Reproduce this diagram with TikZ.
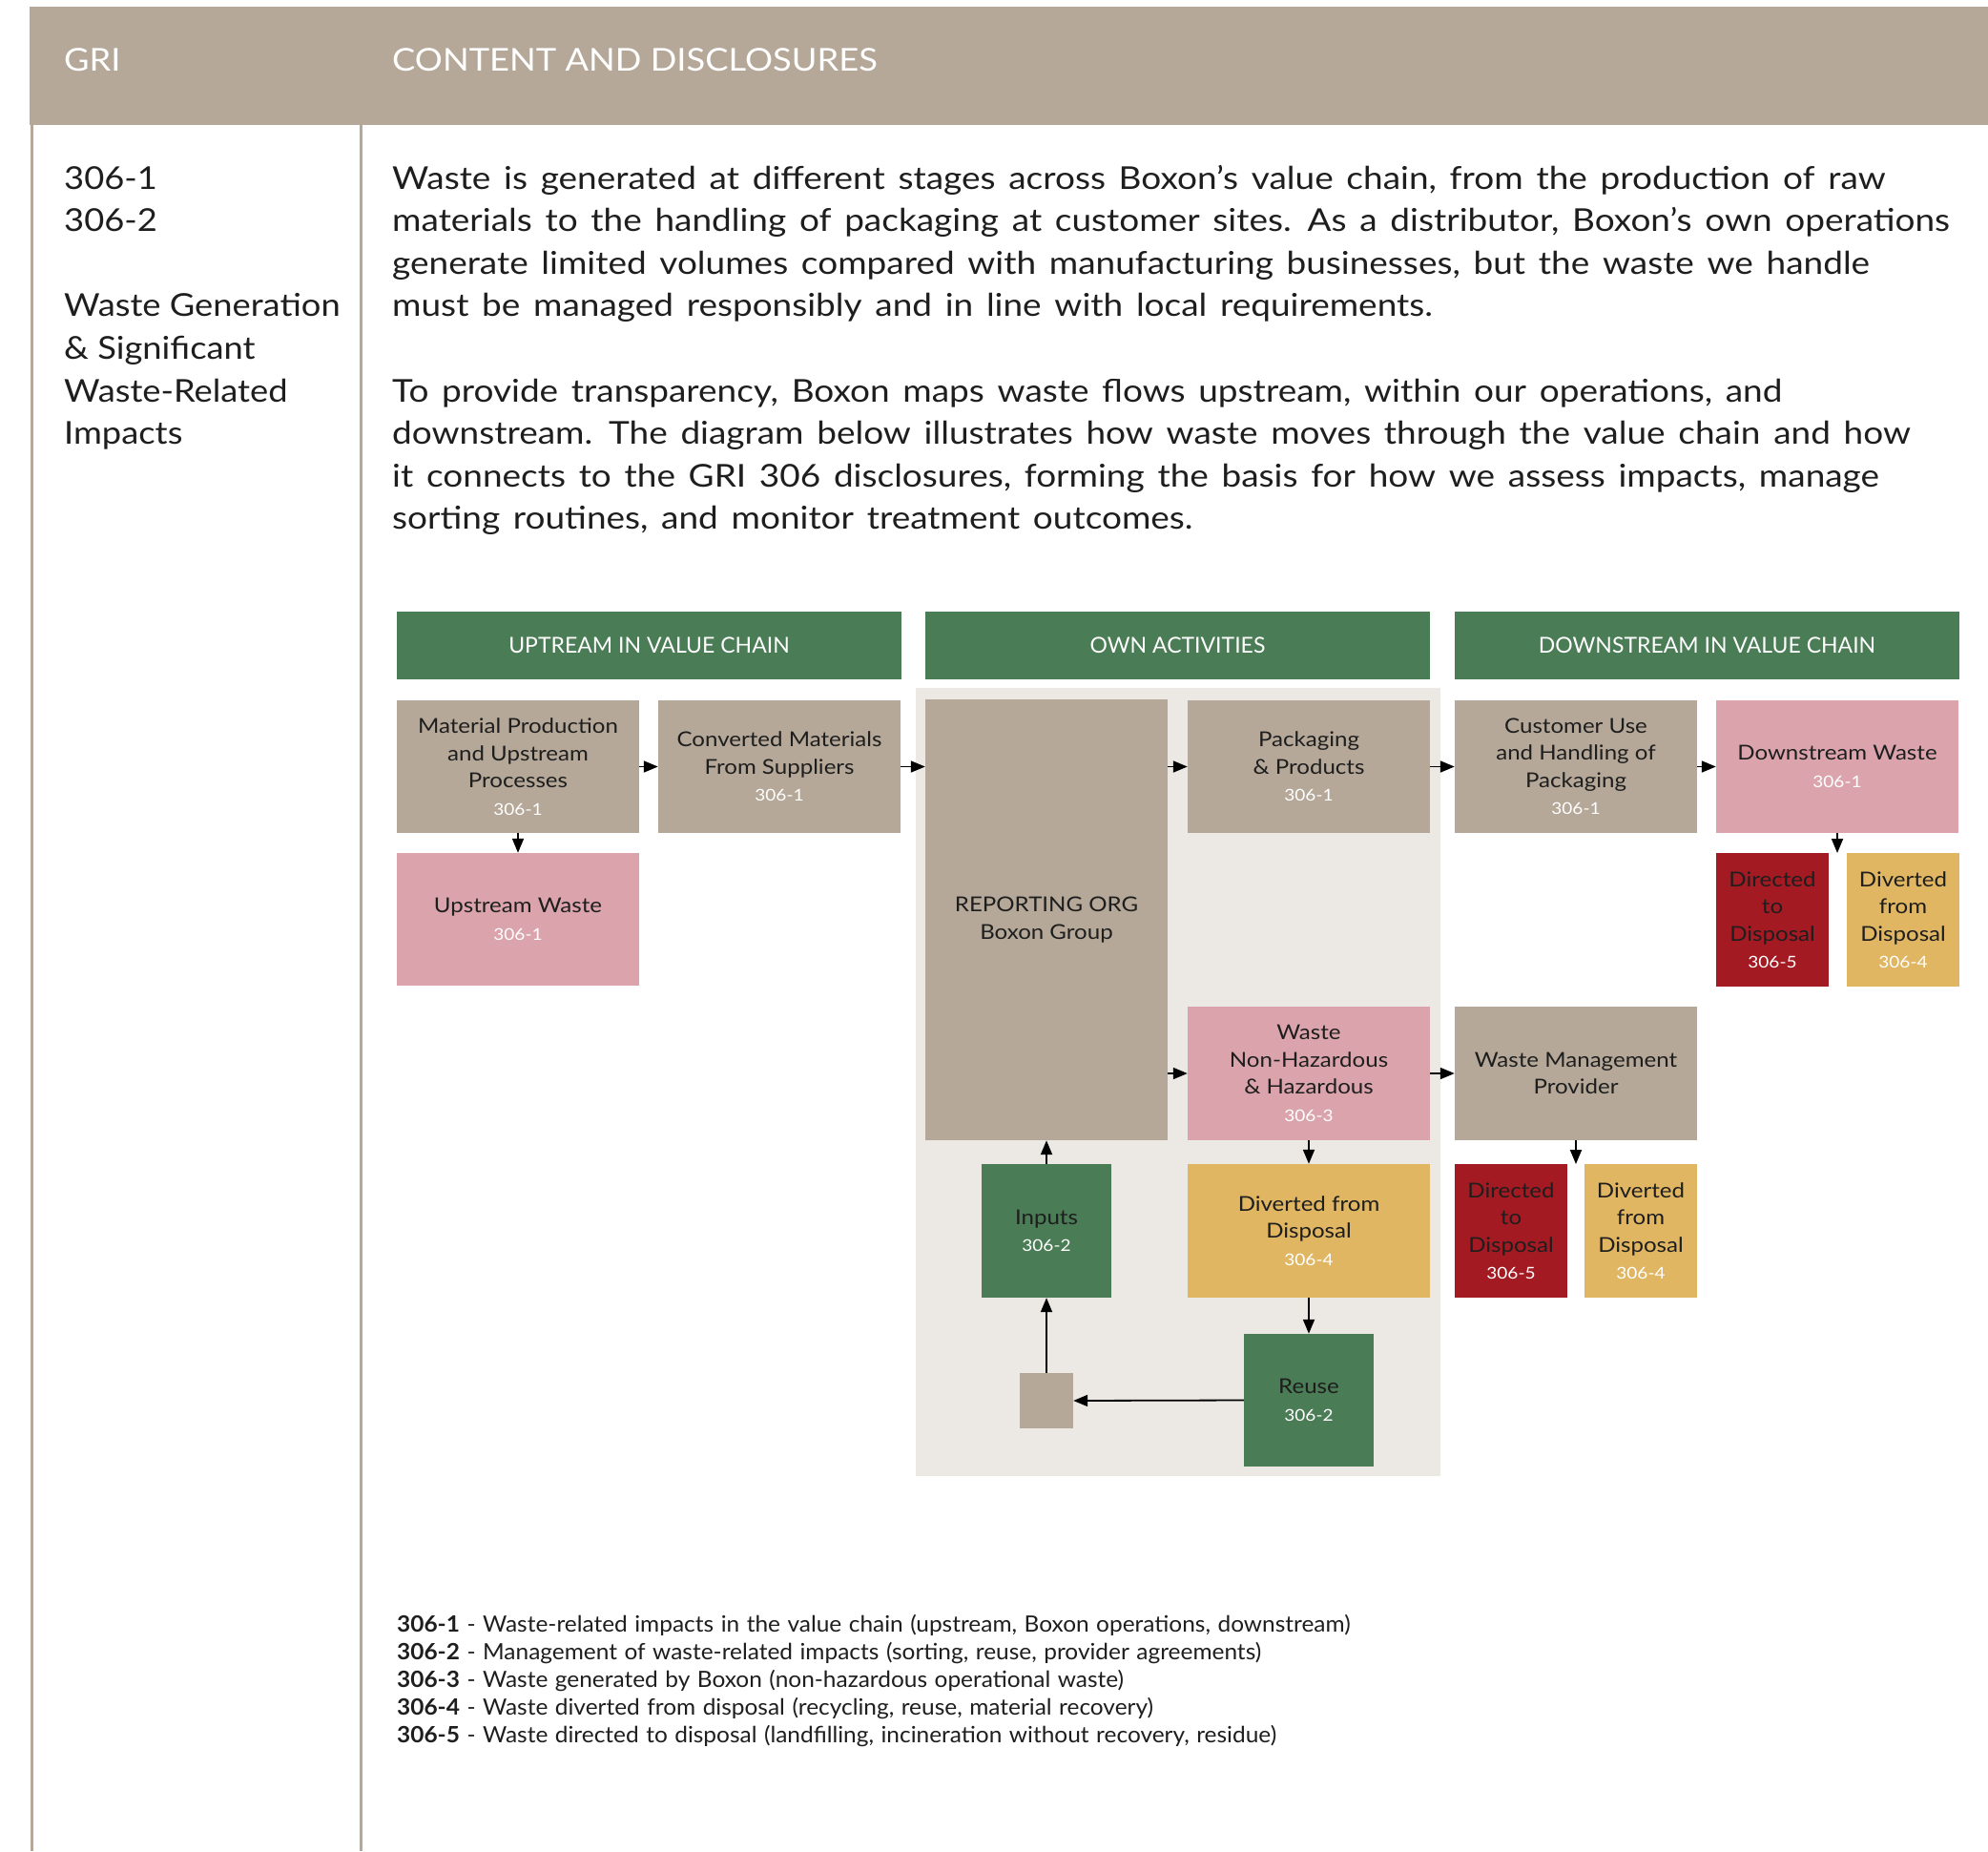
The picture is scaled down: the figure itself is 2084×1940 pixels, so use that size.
\documentclass[tikz,border=0pt]{standalone}
\usepackage{fontspec}
\setmainfont{Lato}[FakeStretch=1.12, WordSpace=1.45]
\newfontfamily\bxf{Lato}[FakeStretch=1.12]
\newfontfamily\lgf{Lato}[FakeStretch=1.04, WordSpace=1.2]
\newfontfamily\hdf{Lato}
\newfontfamily\tpf{Lato}[FakeStretch=1.1]
\usetikzlibrary{arrows.meta}
\definecolor{taupe}{HTML}{B5A898}
\definecolor{vgreen}{HTML}{4A7C55}
\definecolor{vpink}{HTML}{DBA4AC}
\definecolor{vred}{HTML}{A31A22}
\definecolor{vyellow}{HTML}{E0B662}
\definecolor{panel}{HTML}{ECE8E3}
\definecolor{ink}{HTML}{1E1E1E}
\newcommand{\nm}[1]{{\fontsize{17}{28.5}\selectfont\color{white}#1}}
\begin{document}
\begin{tikzpicture}[x=1pt,y=-1pt,
  box/.style={rectangle, inner sep=0pt, align=center, text=ink, font=\bxf\fontsize{21.5}{28.5}\selectfont},
  hdr/.style={rectangle, inner sep=0pt, fill=vgreen, text=white, minimum width=529pt, minimum height=71pt, font=\hdf\fontsize{23}{29}\selectfont},
  txt/.style={anchor=base west, inner sep=0pt, text=ink, font=\fontsize{33}{44}\selectfont},
  side/.style={anchor=base west, inner sep=0pt, text=ink, font=\tpf\fontsize{33}{44}\selectfont},
  leg/.style={anchor=base west, inner sep=0pt, text=ink, font=\lgf\fontsize{23.5}{29}\selectfont},
  head/.style={anchor=base west, inner sep=0pt, text=white, font=\tpf\fontsize{33}{44}\selectfont},
  arr/.style={draw=black, line width=1.8pt, -{Triangle[length=15pt,width=12pt]}},
  wide/.style={minimum width=254pt},
  narrow/.style={minimum width=136pt},
  slim/.style={minimum width=118pt}
]
\useasboundingbox (0,0) rectangle (2084,1940);
\fill[white] (0,0) rectangle (2084,1940);
% table frame
\fill[taupe] (31,7) rectangle (2084,131);
\fill[taupe] (31.5,131) rectangle (34.5,1940);
\fill[taupe] (376.5,131) rectangle (379.5,1940);
\node[head] (hgri) at (67,75) {GRI};
\node[head] (hcont) at (411,75) {CONTENT AND DISCLOSURES};
% left column
\node[side] (l1) at (67,198) {306-1};
\node[side] (l2) at (67,242.5) {306-2};
\node[side] (l3) at (67,331.5) {Waste Generation};
\node[side] (l4) at (67,376) {\& Significant};
\node[side] (l5) at (67,421) {Waste-Related};
\node[side] (l6) at (67,465.5) {Impacts};
% paragraphs
\node[txt] (p1) at (411,198) {Waste is generated at different stages across Boxon’s value chain, from the production of raw};
\node[txt] (p2) at (411,242.5) {materials to the handling of packaging at customer sites. As a distributor, Boxon’s own operations};
\node[txt] (p3) at (411,287) {generate limited volumes compared with manufacturing businesses, but the waste we handle};
\node[txt] (p4) at (411,331.5) {must be managed responsibly and in line with local requirements.};
\node[txt] (p5) at (411,421) {To provide transparency, Boxon maps waste flows upstream, within our operations, and};
\node[txt] (p6) at (411,465.5) {downstream. The diagram below illustrates how waste moves through the value chain and how};
\node[txt] (p7) at (411,510) {it connects to the GRI 306 disclosures, forming the basis for how we assess impacts, manage};
\node[txt] (p8) at (411,554.5) {sorting routines, and monitor treatment outcomes.};
% column headers
\node[hdr] (hu) at (680.5,676.5) {UPTREAM IN VALUE CHAIN};
\node[hdr] (ho) at (1234.5,676.5) {OWN ACTIVITIES};
\node[hdr] (hd) at (1789.5,676.5) {DOWNSTREAM IN VALUE CHAIN};
% own activities panel
\fill[panel] (960,721) rectangle (1510,1547);
% boxes
\node[box, wide, minimum height=139pt, fill=taupe] (mat) at (543,803.5) {Material Production\\and Upstream\\Processes\\\nm{306-1}};
\node[box, wide, minimum height=139pt, fill=taupe] (conv) at (817,803.5) {Converted Materials\\From Suppliers\\\nm{306-1}};
\node[box, wide, minimum height=462pt, fill=taupe] (rep) at (1097,964) {REPORTING ORG\\Boxon Group};
\node[box, wide, minimum height=139pt, fill=taupe] (pack) at (1372,803.5) {Packaging\\\& Products\\\nm{306-1}};
\node[box, wide, minimum height=139pt, fill=taupe] (cust) at (1652,803.5) {Customer Use\\and Handling of\\Packaging\\\nm{306-1}};
\node[box, wide, minimum height=139pt, fill=vpink] (dw) at (1926,803.5) {Downstream Waste\\\nm{306-1}};
\node[box, wide, minimum height=139pt, fill=vpink] (upw) at (543,963.5) {Upstream Waste\\\nm{306-1}};
\node[box, slim, minimum height=140pt, fill=vred] (dd1) at (1858,964) {Directed\\to\\Disposal\\\nm{306-5}};
\node[box, slim, minimum height=140pt, fill=vyellow] (dv1) at (1995,964) {Diverted\\from\\Disposal\\\nm{306-4}};
\node[box, wide, minimum height=140pt, fill=vpink] (wnh) at (1372,1125) {Waste\\Non-Hazardous\\\& Hazardous\\\nm{306-3}};
\node[box, wide, minimum height=140pt, fill=taupe] (wmp) at (1652,1125) {Waste Management\\Provider};
\node[box, narrow, minimum height=140pt, fill=vgreen] (inp) at (1097,1290) {Inputs\\\nm{306-2}};
\node[box, wide, minimum height=140pt, fill=vyellow] (dvo) at (1372,1290) {Diverted from\\Disposal\\\nm{306-4}};
\node[box, slim, minimum height=140pt, fill=vred] (dd2) at (1584,1290) {Directed\\to\\Disposal\\\nm{306-5}};
\node[box, slim, minimum height=140pt, fill=vyellow] (dv2) at (1720,1290) {Diverted\\from\\Disposal\\\nm{306-4}};
\node[box, minimum width=56pt, minimum height=58pt, fill=taupe] (sm) at (1097,1468) {};
\node[box, narrow, minimum height=139pt, fill=vgreen] (reu) at (1372,1467.5) {Reuse\\\nm{306-2}};
% free ends
\coordinate (dwend) at (1926,894);
\coordinate (wmend) at (1652,1220);
% connectors
\draw[arr] (mat.east) -- (conv.west);
\draw[arr] (conv.east) -- (rep.west |- conv.east);
\draw[arr] (rep.east |- pack.west) -- (pack.west);
\draw[arr] (pack.east) -- (cust.west);
\draw[arr] (cust.east) -- (dw.west);
\draw[arr] (mat.south) -- (upw.north);
\draw[arr] (dw.south) -- (dwend);
\draw[arr] (rep.east |- wnh.west) -- (wnh.west);
\draw[arr] (wnh.east) -- (wmp.west);
\draw[arr] (wnh.south) -- (dvo.north);
\draw[arr] (wmp.south) -- (wmend);
\draw[arr] (inp.north) -- (inp.north |- rep.south);
\draw[arr] (dvo.south) -- (reu.north);
\draw[arr] (sm.north) -- (inp.south);
\draw[arr] (reu.west) -- (sm.east);
% legend
\node[leg] (g1) at (416,1710) {\textbf{306-1} - Waste-related impacts in the value chain (upstream, Boxon operations, downstream)};
\node[leg] (g2) at (416,1739) {\textbf{306-2} - Management of waste-related impacts (sorting, reuse, provider agreements)};
\node[leg] (g3) at (416,1768) {\textbf{306-3} - Waste generated by Boxon (non-hazardous operational waste)};
\node[leg] (g4) at (416,1797) {\textbf{306-4} - Waste diverted from disposal (recycling, reuse, material recovery)};
\node[leg] (g5) at (416,1826) {\textbf{306-5} - Waste directed to disposal (landfilling, incineration without recovery, residue)};
\end{tikzpicture}
\end{document}
